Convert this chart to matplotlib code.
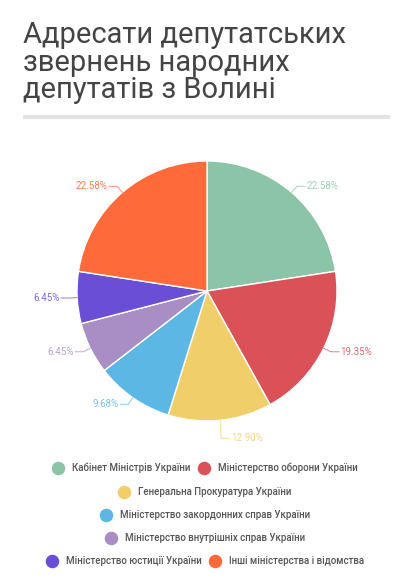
import matplotlib
matplotlib.use("Agg")
import matplotlib.pyplot as plt
import numpy as np

plt.rcParams['font.family'] = ['Roboto', 'DejaVu Sans']

title = "Адресати депутатських\nзвернень народних\nдепутатів з Волині"
labels = ["Кабінет Міністрів України",
          "Міністерство оборони України",
          "Генеральна Прокуратура України",
          "Міністерство закордонних справ України",
          "Міністерство внутрішніх справ України",
          "Міністерство юстиції України",
          "Інші міністерства і відомства"]
values = [22.58, 19.35, 12.90, 9.68, 6.45, 6.45, 22.58]
colors = ["#8cc4a8", "#da5158", "#f0cf6a", "#5db7e5", "#a98ec6", "#6a4fd6", "#fe6a3a"]
legend_rows = [[0, 1], [2], [3], [4], [5, 6]]

W, H = 408, 583
fig = plt.figure(figsize=(W / 100, H / 100), dpi=100)
ax = fig.add_axes([0, 0, 1, 1])

cx, cy, r = 207, H - 291, 130
wedges, _ = ax.pie(values, colors=colors, startangle=90, counterclock=False,
                   center=(cx, cy), radius=r,
                   wedgeprops=dict(edgecolor="white", linewidth=1))
ax.set_xlim(0, W)
ax.set_ylim(0, H)
ax.set_aspect('auto')
ax.axis('off')

# percent labels with leader lines
radial = [8, 8, 18, 8, 8, 8, 8]
for w, v, c, ext in zip(wedges, values, colors, radial):
    ang = np.deg2rad((w.theta1 + w.theta2) / 2)
    x0, y0 = cx + r * np.cos(ang), cy + r * np.sin(ang)
    x1, y1 = cx + (r + ext) * np.cos(ang), cy + (r + ext) * np.sin(ang)
    if abs(np.cos(ang)) < 0.15:
        x1, y1 = x0 + 1, y0 - ext
    side = 1 if np.cos(ang) >= 0 else -1
    x2 = x1 + side * 8
    ax.plot([x0, x1, x2], [y0, y1, y1], color=c, lw=0.7, alpha=0.75)
    ax.text(x2 + side * 1.5, y1, f"{v:.2f}%", color=c, alpha=0.85, fontsize=7,
            ha='left' if side > 0 else 'right', va='center')

# title and rule
fig.text(23 / W, 1 - 21 / H, title, fontsize=21, color="#444444",
         va='top', ha='left', linespacing=0.98)
ax.plot([23, 390], [H - 117, H - 117], color="#e3e3e3", lw=3, solid_capstyle='butt')

# legend
fig.canvas.draw()
renderer = fig.canvas.get_renderer()
row_y = [468, 492, 515, 538, 561]
gap = 14
for row, yy in zip(legend_rows, row_y):
    widths = []
    for i in row:
        t = ax.text(0, 0, labels[i], fontsize=7, fontweight='medium')
        widths.append(t.get_window_extent(renderer).width)
        t.remove()
    total = sum(gap + wd for wd in widths) + gap * (len(row) - 1)
    x = 203 - total / 2 + 5
    for i, wd in zip(row, widths):
        ax.scatter([x], [H - yy], s=95, color=colors[i], linewidths=0)
        ax.text(x + gap, H - yy, labels[i], fontsize=7, fontweight='medium',
                color="#555555", va='center', ha='left')
        x += gap + wd + gap

fig.savefig("out.png", dpi=100)
